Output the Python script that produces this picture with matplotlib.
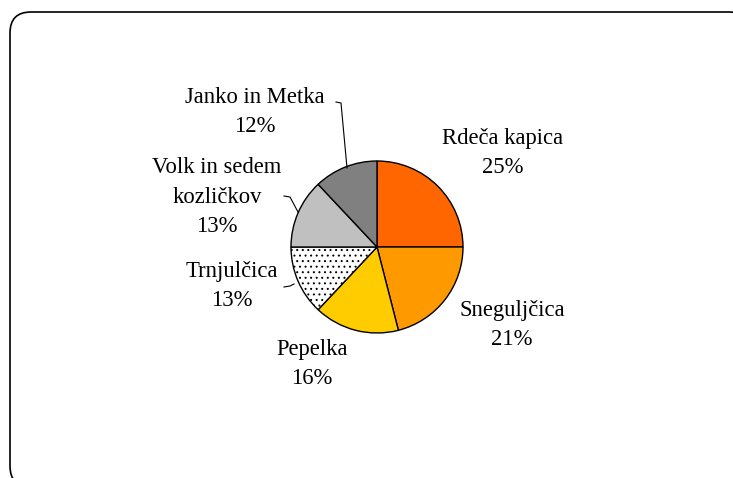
import matplotlib.pyplot as plt
from matplotlib.patches import FancyBboxPatch

plt.rcParams['font.family'] = ['Liberation Serif', 'DejaVu Serif']
plt.rcParams['hatch.linewidth'] = 0.7

names = ['Rdeča kapica', 'Sneguljčica', 'Pepelka', 'Trnjulčica',
         'Volk in sedem\nkozličkov', 'Janko in Metka']
shares = [25, 21, 16, 13, 13, 12]
colors = ['#FF6600', '#FF9900', '#FFCC00', '#FFFFFF', '#C0C0C0', '#808080']
hatches = [None, None, None, '...', None, None]

# label centres in pixel space (y measured from the bottom)
label_xy = [(503, 325), (512, 153), (312, 114), (232, 192), (217, 281), (255, 366)]

W, H = 733, 478
fig = plt.figure(figsize=(W / 100, H / 100), dpi=100)
ax = fig.add_axes([0, 0, 1, 1])

# frame around the chart area, clipped at the right and bottom
frame = FancyBboxPatch((10, -9), 740, H - 12 + 9,
                       boxstyle='round,pad=0,rounding_size=21',
                       fc='white', ec='black', lw=1.2)
ax.add_patch(frame)

wedges, _ = ax.pie(shares, colors=colors, startangle=90, counterclock=False,
                   center=(377, 231), radius=86,
                   wedgeprops=dict(edgecolor='black', linewidth=1.0))
for w, h in zip(wedges, hatches):
    if h:
        w.set_hatch(h)
        w.set_edgecolor('black')

for name, pct, (x, y) in zip(names, shares, label_xy):
    ax.text(x, y, f'{name}\n{pct}%', ha='center', va='center',
            fontsize=16.3, linespacing=1.55)

# leader lines
ax.plot([336, 341, 347], [376, 375, 310], color='black', lw=0.8)
ax.plot([284, 290, 298], [282, 281, 266], color='black', lw=0.8)
ax.plot([284, 290, 294], [191, 192, 194], color='black', lw=0.8)

ax.set_xlim(0, W)
ax.set_ylim(0, H)
ax.set_aspect('equal')
ax.axis('off')

fig.savefig('out.png', dpi=100)
